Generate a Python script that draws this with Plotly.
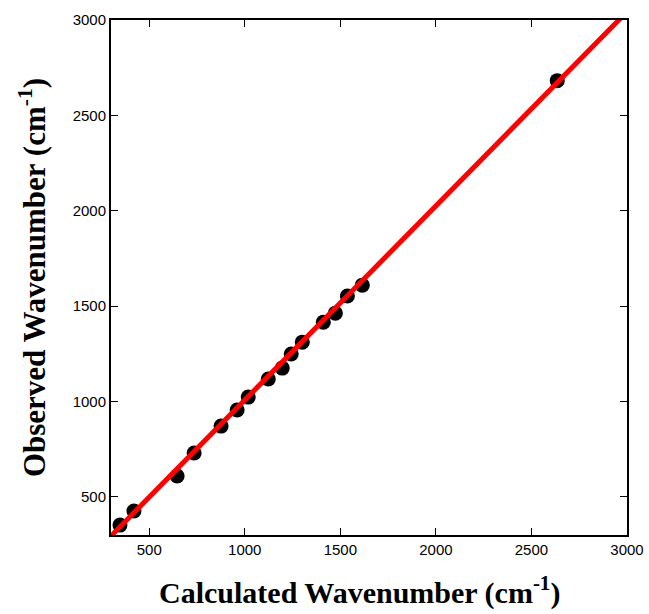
import plotly.graph_objects as go

# Calculated vs observed vibrational wavenumbers (cm^-1)
calculated = [347, 420, 646, 735, 876, 960, 1018, 1123, 1196, 1243, 1301, 1411, 1474, 1537, 1615, 2635]
observed = [352, 426, 609, 730, 871, 955, 1023, 1118, 1175, 1249, 1311, 1416, 1463, 1553, 1610, 2682]

# Linear correlation line: observed = slope * calculated + intercept
slope = 1.018
intercept = -10.5
line_x = [300, 3000]
line_y = [slope * v + intercept for v in line_x]

tick_vals = [500, 1000, 1500, 2000, 2500, 3000]

fig = go.Figure()
fig.add_trace(go.Scatter(
    x=calculated, y=observed, mode="markers",
    marker=dict(color="black", size=15, line=dict(width=0)),
    showlegend=False,
))
fig.add_trace(go.Scatter(
    x=line_x, y=line_y, mode="lines",
    line=dict(color="#ff0000", width=5),
    showlegend=False,
))

axis_common = dict(
    showgrid=False, zeroline=False, automargin=False,
    showline=True, linecolor="black", linewidth=2, mirror="ticks",
    ticks="inside", ticklen=7, tickwidth=1, tickcolor="black",
    tickvals=tick_vals,
    tickfont=dict(family="Liberation Sans, Arial, sans-serif", size=15, color="black"),
    range=[300, 3000],
)

title_font = dict(family="Liberation Serif, Times New Roman, serif", color="black", weight="bold")

fig.update_layout(
    width=649, height=614,
    margin=dict(l=111, r=22, t=20, b=79),
    plot_bgcolor="white", paper_bgcolor="white",
    xaxis=dict(**axis_common),
    yaxis=dict(
        **axis_common,
        title=dict(
            text="Observed Wavenumber (cm<sup>-1</sup>)",
            font=dict(**title_font, size=31),
            standoff=18,
        ),
    ),
)

# x-axis title, placed slightly left of the plot centre
fig.add_annotation(
    text="Calculated Wavenumber (cm<sup>-1</sup>)",
    xref="paper", yref="paper", x=0.482, y=-0.108,
    xanchor="center", yanchor="middle", showarrow=False,
    font=dict(**title_font, size=30),
)

fig.write_html("out.html")
